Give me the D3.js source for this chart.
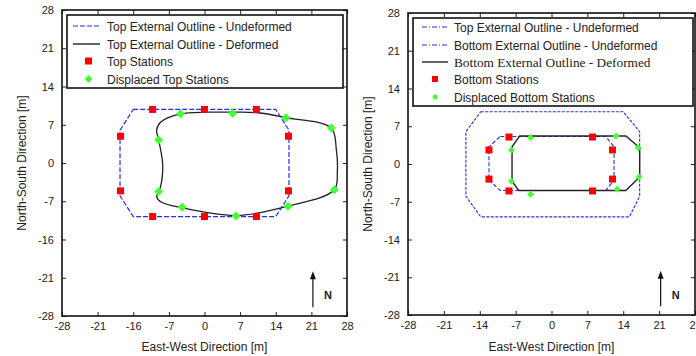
<!DOCTYPE html>
<html>
<head>
<meta charset="utf-8">
<script src="https://cdn.jsdelivr.net/npm/d3@7"></script>
<style>
  html, body { margin: 0; padding: 0; background: #fff; }
  svg { display: block; }
  text { font-family: "Liberation Sans", Arial, sans-serif; fill: #222; }
</style>
</head>
<body>
<svg id="chart" width="696" height="356"></svg>
<script>
// ---------- DATA ----------
const tickValues = [-28, -21, -14, -7, 0, 7, 14, 21, 28];
const leftXTickLabels = ["-28", "-21", "-16", "-7", "0", "7", "14", "21", "28"];
const leftYTickLabels = ["-28", "-21", "-16", "-7", "0", "7", "14", "21", "28"];
const rightXTickLabels = ["-28", "-21", "-14", "-7", "0", "7", "14", "21", "28"];
const rightYTickLabels = ["-28", "-21", "-14", "-7", "0", "7", "14", "21", "28"];

// Left panel (top level)
const topUndeformedL = [[-14, 9.8], [14, 9.8], [16.6, 6], [16.6, -6], [14, -9.8], [-14, -9.8], [-16.6, -6], [-16.6, 6]];
const topDeformedL = [[-9.4, 6.0], [-8.6, 7.5], [-4.7, 9.0], [0.5, 9.3], [5.5, 9.3], [10.5, 9.2], [16.0, 8.3], [24.9, 6.4],
  [25.9, 2.5], [26.1, -1.5], [25.5, -4.9], [16.4, -7.9], [6.2, -9.6], [-4.4, -8.2], [-8.6, -7.1], [-9.4, -6.1],
  [-8.9, -5.2], [-8.2, -0.6], [-9.0, 4.2]];
const topStationsL = [[-10.2, 9.8], [0, 9.8], [10.2, 9.8], [16.5, 4.9], [16.5, -5.1], [10.2, -9.8], [0, -9.8], [-10.2, -9.8], [-16.5, -5.1], [-16.5, 4.9]];
const displacedTopL = [[-4.7, 9.0], [5.5, 9.1], [16.0, 8.3], [24.9, 6.4], [25.5, -4.9], [16.4, -7.9], [6.2, -9.7], [-4.4, -8.1], [-9.0, -5.2], [-9.0, 4.2]];

// Right panel (bottom level)
const topUndeformedR = [[-13.8, 9.7], [14, 9.7], [17.2, 6], [17.2, -6], [15.2, -9.8], [-13.8, -9.8], [-16.7, -6], [-16.7, 6]];
const bottomUndeformedR = [[-10, 5.1], [10.6, 5.1], [12.2, 3.2], [12.2, -3.0], [10.6, -4.9], [-10, -4.9], [-12.2, -3.0], [-12.2, 3.2]];
const bottomDeformedR = [[-6.2, 5.2], [14.5, 5.2], [17.2, 3.0], [17.2, -2.4], [14.5, -4.9], [-6.4, -4.9], [-7.7, -3.2], [-7.7, 3.2]];
const bottomStationsR = [[-8.3, 5.0], [8.0, 5.0], [11.9, 2.6], [11.9, -2.8], [8.0, -5.0], [-8.3, -5.0], [-12.2, -2.8], [-12.2, 2.6]];
const displacedBottomR = [[-4.1, 4.9], [12.6, 5.2], [16.9, 3.0], [17.1, -2.4], [12.8, -4.7], [-4.1, -5.6], [-7.8, -3.2], [-7.8, 2.6]];

const legendL = ["Top External Outline - Undeformed", "Top External Outline - Deformed", "Top Stations", "Displaced Top Stations"];
const legendR = ["Top External Outline - Undeformed", "Bottom External Outline - Undeformed", "Bottom External Outline - Deformed", "Bottom Stations", "Displaced Bottom Stations"];

// ---------- STYLE ----------
const BLUE = "#2b2bf0";
const RED = "#ff0000";
const GREEN = "#44ff33";
const svg = d3.select("#chart");

function drawPanel(cfg) {
  const x = d3.scaleLinear().domain([-28, 28]).range([cfg.x0, cfg.x1]);
  const y = d3.scaleLinear().domain([-28, 28]).range([cfg.y1, cfg.y0]);
  const g = svg.append("g");

  const clipId = "clip" + cfg.id;
  svg.append("clipPath").attr("id", clipId).append("rect")
    .attr("x", cfg.x0).attr("y", cfg.y0).attr("width", cfg.x1 - cfg.x0).attr("height", cfg.y1 - cfg.y0);

  const plot = g.append("g").attr("clip-path", `url(#${clipId})`);

  const fmtX = (d, i) => cfg.xLabels[i];
  const fmtY = (d, i) => cfg.yLabels[i];
  const axB = g.append("g").attr("transform", `translate(0,${cfg.y1})`)
    .call(d3.axisBottom(x).tickValues(tickValues).tickFormat(fmtX).tickSizeInner(-4).tickSizeOuter(0).tickPadding(6));
  const axL = g.append("g").attr("transform", `translate(${cfg.x0},0)`)
    .call(d3.axisLeft(y).tickValues(tickValues).tickFormat(fmtY).tickSizeInner(-4).tickSizeOuter(0).tickPadding(8));
  const axT = g.append("g").attr("transform", `translate(0,${cfg.y0})`)
    .call(d3.axisTop(x).tickValues(tickValues).tickFormat("").tickSizeInner(-4).tickSizeOuter(0));
  const axR = g.append("g").attr("transform", `translate(${cfg.x1},0)`)
    .call(d3.axisRight(y).tickValues(tickValues).tickFormat("").tickSizeInner(-4).tickSizeOuter(0));
  [axB, axL, axT, axR].forEach(a => {
    a.select(".domain").remove();
    a.selectAll(".tick line").attr("stroke", "#222").attr("stroke-width", 1);
    a.selectAll("text").attr("font-size", 11).attr("fill", "#223").style("font-family", "Liberation Sans, Arial, sans-serif");
  });

  g.append("rect").attr("x", cfg.x0).attr("y", cfg.y0)
    .attr("width", cfg.x1 - cfg.x0).attr("height", cfg.y1 - cfg.y0)
    .attr("fill", "none").attr("stroke", "#111").attr("stroke-width", 1.6);

  g.append("text").attr("x", (cfg.x0 + cfg.x1) / 2).attr("y", 351)
    .attr("text-anchor", "middle").attr("font-size", 12).text("East-West Direction [m]");
  g.append("text").attr("transform", `translate(${cfg.x0 - 36},${(cfg.y0 + cfg.y1) / 2}) rotate(-90)`)
    .attr("text-anchor", "middle").attr("font-size", 12).text("North-South Direction [m]");

  return { x, y, g, plot };
}

const lineGen = (x, y) => d3.line().x(d => x(d[0])).y(d => y(d[1]));
const diamondPath = a => `M0,${-a}L${a},0L0,${a}L${-a},0Z`;

function squares(plot, x, y, data, s) {
  plot.selectAll(null).data(data).enter().append("rect")
    .attr("x", d => x(d[0]) - s / 2).attr("y", d => y(d[1]) - s / 2)
    .attr("width", s).attr("height", s).attr("fill", RED);
}
function diamonds(plot, x, y, data, a) {
  plot.selectAll(null).data(data).enter().append("path")
    .attr("transform", d => `translate(${x(d[0])},${y(d[1])})`)
    .attr("d", diamondPath(a)).attr("fill", GREEN);
}
function northArrow(g, x, y, xd, yFrom, yTo) {
  const px = x(xd), pb = y(yFrom), pt = y(yTo);
  g.append("line").attr("x1", px).attr("x2", px).attr("y1", pb).attr("y2", pt + 4)
    .attr("stroke", "#111").attr("stroke-width", 1.2);
  g.append("path").attr("d", `M${px},${pt} L${px - 3},${pt + 8} L${px + 3},${pt + 8} Z`).attr("fill", "#111");
  g.append("text").attr("x", px + 11).attr("y", (pb + pt) / 2 + 10)
    .attr("font-size", 11).attr("font-weight", "bold").attr("fill", "#111").text("N");
}

// ---------- LEFT PANEL ----------
{
  const { x, y, g, plot } = drawPanel({ id: "L", x0: 62, x1: 347, y0: 10, y1: 316, xLabels: leftXTickLabels, yLabels: leftYTickLabels });
  plot.append("path").datum(topDeformedL)
    .attr("d", lineGen(x, y).curve(d3.curveCatmullRomClosed.alpha(0.5)))
    .attr("fill", "none").attr("stroke", "#222").attr("stroke-width", 1.3);
  plot.append("path").datum(topUndeformedL)
    .attr("d", lineGen(x, y).curve(d3.curveLinearClosed))
    .attr("fill", "none").attr("stroke", BLUE).attr("stroke-width", 1.2).attr("stroke-dasharray", "5,2");
  squares(plot, x, y, topStationsL, 7);
  diamonds(plot, x, y, displacedTopL, 4.5);
  northArrow(g, x, y, 21.3, -26.4, -19.8);

  const lg = g.append("g");
  lg.append("rect").attr("x", 67).attr("y", 15).attr("width", 276).attr("height", 73)
    .attr("fill", "#fff").attr("stroke", "#111").attr("stroke-width", 1.6);
  const ly = [26, 44, 61, 79];
  legendL.forEach((t, i) => {
    lg.append("text").attr("x", 107).attr("y", ly[i] + 4.5).attr("font-size", 12).text(t);
  });
  lg.append("line").attr("x1", 73).attr("x2", 100).attr("y1", ly[0]).attr("y2", ly[0])
    .attr("stroke", BLUE).attr("stroke-width", 1.2).attr("stroke-dasharray", "5,2");
  lg.append("line").attr("x1", 73).attr("x2", 100).attr("y1", ly[1]).attr("y2", ly[1])
    .attr("stroke", "#111").attr("stroke-width", 1.3);
  lg.append("rect").attr("x", 85).attr("y", ly[2] - 3.5).attr("width", 7).attr("height", 7).attr("fill", RED);
  lg.append("path").attr("transform", `translate(88.5,${ly[3]})`)
    .attr("d", diamondPath(4)).attr("fill", GREEN);
}

// ---------- RIGHT PANEL ----------
{
  const { x, y, g, plot } = drawPanel({ id: "R", x0: 408, x1: 695, y0: 13, y1: 315, xLabels: rightXTickLabels, yLabels: rightYTickLabels });
  plot.append("path").datum(topUndeformedR)
    .attr("d", lineGen(x, y).curve(d3.curveLinearClosed))
    .attr("fill", "none").attr("stroke", BLUE).attr("stroke-width", 1.1).attr("stroke-dasharray", "3,1.5");
  plot.append("path").datum(bottomUndeformedR)
    .attr("d", lineGen(x, y).curve(d3.curveLinearClosed))
    .attr("fill", "none").attr("stroke", BLUE).attr("stroke-width", 1.1).attr("stroke-dasharray", "4,2");
  plot.append("path").datum(bottomDeformedR)
    .attr("d", lineGen(x, y).curve(d3.curveLinearClosed))
    .attr("fill", "none").attr("stroke", "#222").attr("stroke-width", 1.4);
  squares(plot, x, y, bottomStationsR, 7);
  diamonds(plot, x, y, displacedBottomR, 3.5);
  northArrow(g, x, y, 21.3, -26.4, -19.8);

  const lg = g.append("g");
  lg.append("rect").attr("x", 413).attr("y", 18).attr("width", 280).attr("height", 88)
    .attr("fill", "#fff").attr("stroke", "#111").attr("stroke-width", 1.6);
  const ly = [27, 45, 62, 79, 97];
  legendR.forEach((t, i) => {
    const tx = lg.append("text").attr("x", 454).attr("y", ly[i] + 4.5).attr("font-size", 12).text(t);
    if (i === 2) tx.style("font-family", "Liberation Serif, Times New Roman, serif").attr("font-size", 13.3).attr("fill", "#111");
  });
  lg.append("line").attr("x1", 422).attr("x2", 448).attr("y1", ly[0]).attr("y2", ly[0])
    .attr("stroke", BLUE).attr("stroke-width", 1.1).attr("stroke-dasharray", "5,2,1,2");
  lg.append("line").attr("x1", 422).attr("x2", 448).attr("y1", ly[1]).attr("y2", ly[1])
    .attr("stroke", BLUE).attr("stroke-width", 1.1).attr("stroke-dasharray", "5,2,1,2");
  lg.append("line").attr("x1", 422).attr("x2", 448).attr("y1", ly[2]).attr("y2", ly[2])
    .attr("stroke", "#111").attr("stroke-width", 1.3);
  lg.append("rect").attr("x", 432).attr("y", ly[3] - 3).attr("width", 6).attr("height", 6).attr("fill", RED);
  lg.append("circle").attr("cx", 435).attr("cy", ly[4]).attr("r", 2.5).attr("fill", GREEN);
}
</script>
</body>
</html>
